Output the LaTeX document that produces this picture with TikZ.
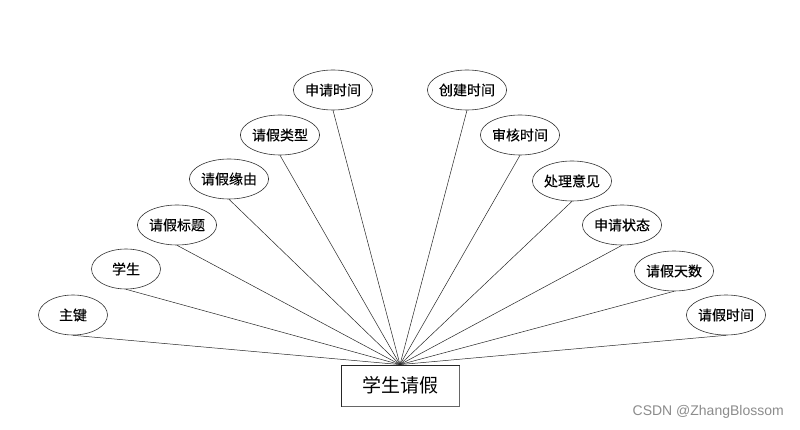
\documentclass[tikz,border=0pt]{standalone}
\usepackage{fontspec}
\usetikzlibrary{shapes.geometric}
\newfontfamily\cjk[FakeBold=0.2]{Noto Sans CJK SC}
\newfontfamily\cjkr{Noto Sans CJK SC}
\newfontfamily\wm{Liberation Sans}
\begin{document}
\begin{tikzpicture}[x=1pt,y=-1pt,
  attr/.style={draw=black!80, line width=0.6pt, ellipse, minimum width=69pt, minimum height=40pt, inner sep=0pt, font=\cjk\fontsize{14}{14}\selectfont},
  ent/.style={draw=black!85, line width=0.8pt, minimum width=118pt, minimum height=41pt, inner sep=0pt, font=\cjkr\fontsize{19}{19}\selectfont},
  link/.style={draw=black!85, line width=0.5pt}]
\useasboundingbox (0,0) rectangle (800,430);
\fill[white] (0,0) rectangle (800,430);
\node[ent] (e) at (400,385.5) {学生请假};
\draw[black!60, line width=0.8pt] (341.5,406.8) -- (459.8,406.8) -- (459.8,365.5);
\node[attr] (a1) at (73,315) {主键};
\node[attr] (a2) at (126,269) {学生};
\node[attr] (a3) at (177,225) {请假标题};
\node[attr] (a4) at (229,179) {请假缘由};
\node[attr] (a5) at (280,135) {请假类型};
\node[attr] (a6) at (333,90) {申请时间};
\node[attr] (b6) at (467,90) {创建时间};
\node[attr] (b5) at (520,135) {审核时间};
\node[attr] (b4) at (572,181) {处理意见};
\node[attr] (b3) at (622,225) {申请状态};
\node[attr] (b2) at (674,271) {请假天数};
\node[attr] (b1) at (726,315) {请假时间};
\foreach \n in {a1,a2,a3,a4,a5,a6,b1,b2,b3,b4,b5,b6}
  \draw[link] (\n.south) -- (e.north);
\node[font=\wm\fontsize{14}{14}\selectfont, text=black!45, anchor=east, inner sep=0pt] (wm) at (784,412) {CSDN @ZhangBlossom};
\end{tikzpicture}
\end{document}
